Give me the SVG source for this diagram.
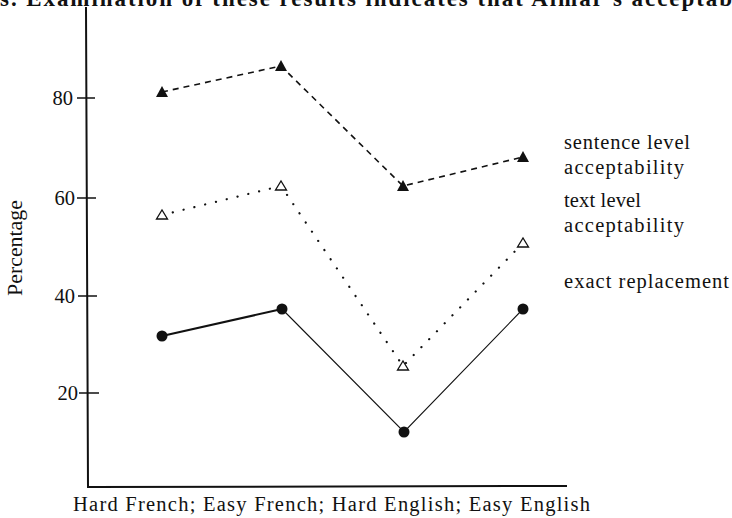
<svg xmlns="http://www.w3.org/2000/svg" width="732" height="518" viewBox="0 0 732 518">
<style>
text{font-family:"Liberation Serif","DejaVu Serif",serif;fill:#111}
.lbl{font-size:20.5px}
.axis{stroke:#111;stroke-width:2;fill:none}
.tick{stroke:#111;stroke-width:1.5}
.sent{stroke:#111;stroke-width:1.6;fill:none;stroke-dasharray:6 5}
.textl{stroke:#111;stroke-width:2.2;fill:none;stroke-dasharray:0.1 11;stroke-linecap:round}
.exact{stroke:#111;fill:none}
.ftri{fill:#111}
.otri{fill:#fff;stroke:#111;stroke-width:1.3}
.dot{fill:#111}
</style>
<rect width="732" height="518" fill="#fff"/>
<text x="0" y="6" style="font-size:23px;font-weight:bold" textLength="732" lengthAdjust="spacing">s. Examination of these results indicates that Aimar's acceptab</text>
<g id="axes">
<path class="axis" d="M86 7 L88 487 L567 486"/>
<line class="tick" x1="77" y1="98" x2="95" y2="98"/>
<line class="tick" x1="77" y1="198" x2="96" y2="198"/>
<line class="tick" x1="78" y1="296" x2="97" y2="296"/>
<line class="tick" x1="79" y1="393" x2="99" y2="393"/>
<text class="lbl" x="73" y="105" text-anchor="end">80</text>
<text class="lbl" x="75" y="205" text-anchor="end">60</text>
<text class="lbl" x="75" y="303" text-anchor="end">40</text>
<text class="lbl" x="78" y="400" text-anchor="end">20</text>
<text class="lbl" transform="translate(22 248) rotate(-90)" text-anchor="middle" textLength="96" lengthAdjust="spacingAndGlyphs">Percentage</text>
<text class="lbl" x="73" y="511" textLength="517" lengthAdjust="spacing">Hard French; Easy French; Hard English; Easy English</text>
</g>
<g id="connectors">
<polyline class="sent" points="162,92 281,66 403,186 523,157"/>
<polyline class="textl" points="162,215 281,186 403,366 523,243"/>
<line class="exact" x1="162" y1="336" x2="282" y2="309" stroke-width="2"/>
<polyline class="exact" points="282,309 404,432 523,309" stroke-width="1.1"/>
</g>
<g id="sentence-level">
<polygon class="ftri" points="156,97 168,97 162,86"/>
<polygon class="ftri" points="275,71 287,71 281,60"/>
<polygon class="ftri" points="397,191 409,191 403,180"/>
<polygon class="ftri" points="517,162 529,162 523,151"/>
</g>
<g id="text-level">
<polygon class="otri" points="156.5,219 167.5,219 162,210"/>
<polygon class="otri" points="275.5,190 286.5,190 281,181"/>
<polygon class="otri" points="397.5,370 408.5,370 403,361"/>
<polygon class="otri" points="517.5,247 528.5,247 523,238"/>
</g>
<g id="exact-replacement">
<circle class="dot" cx="162" cy="336" r="5.5"/>
<circle class="dot" cx="282" cy="309" r="5.5"/>
<circle class="dot" cx="404" cy="432" r="5.5"/>
<circle class="dot" cx="523" cy="309" r="5.5"/>
</g>
<g id="legend">
<text class="lbl" x="564" y="149" textLength="126" lengthAdjust="spacing">sentence level</text>
<text class="lbl" x="564" y="174" textLength="120" lengthAdjust="spacing">acceptability</text>
<text class="lbl" x="564" y="207" textLength="77" lengthAdjust="spacing">text level</text>
<text class="lbl" x="564" y="232" textLength="120" lengthAdjust="spacing">acceptability</text>
<text class="lbl" x="564" y="288" textLength="165" lengthAdjust="spacing">exact replacement</text>
</g>
</svg>
